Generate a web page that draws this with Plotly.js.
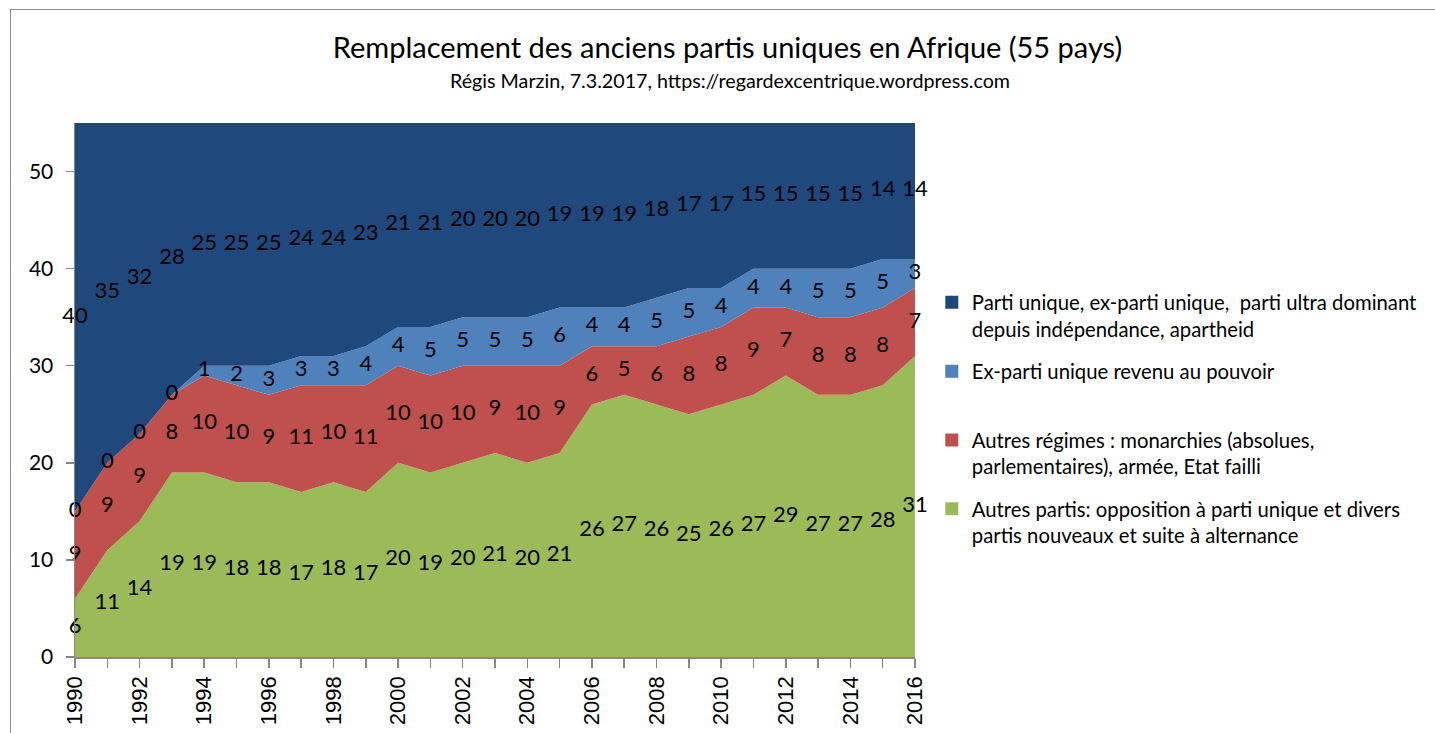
<!DOCTYPE html>
<html>
<head>
<meta charset="utf-8">
<script src="https://cdn.plot.ly/plotly-3.0.1.min.js"></script>
<style>
html,body{margin:0;padding:0;background:#fff;}
#chart{width:1435px;height:733px;position:relative;}
#frame{position:absolute;left:10px;top:9px;width:1440px;height:740px;border-left:1.5px solid #8c8c8c;border-top:1.5px solid #8c8c8c;pointer-events:none;}
</style>
</head>
<body>
<div id="chart"></div>
<div id="frame"></div>
<script>
const years = [1990,1991,1992,1993,1994,1995,1996,1997,1998,1999,2000,2001,2002,2003,2004,2005,2006,2007,2008,2009,2010,2011,2012,2013,2014,2015,2016];
const autresPartis = [6,11,14,19,19,18,18,17,18,17,20,19,20,21,20,21,26,27,26,25,26,27,29,27,27,28,31];
const autresRegimes = [9,9,9,8,10,10,9,11,10,11,10,10,10,9,10,9,6,5,6,8,8,9,7,8,8,8,7];
const exPartiRevenu = [0,0,0,0,1,2,3,3,3,4,4,5,5,5,5,6,4,4,5,5,4,4,4,5,5,5,3];
const partiUnique = [40,35,32,28,25,25,25,24,24,23,21,21,20,20,20,19,19,19,18,17,17,15,15,15,15,14,14];

const seriesNames = [
  "Autres partis: opposition à parti unique et divers<br>partis nouveaux et suite à alternance",
  "Autres régimes : monarchies (absolues,<br>parlementaires), armée, Etat failli",
  "Ex-parti unique revenu au pouvoir<br> ",
  "Parti unique, ex-parti unique,  parti ultra dominant<br>depuis indépendance, apartheid"
];
const seriesVals = [autresPartis, autresRegimes, exPartiRevenu, partiUnique];
const colors = ["#9BBB59", "#C0504D", "#4F81BD", "#1F497D"];

const traces = [];
// stacked areas
seriesVals.forEach((vals, i) => {
  traces.push({
    type: "scatter", x: years, y: vals, stackgroup: "one",
    mode: "none", fillcolor: colors[i], line: {width: 0},
    showlegend: false, hoverinfo: "skip"
  });
});
// data labels at the middle of each band
const base = years.map(() => 0);
seriesVals.forEach((vals, i) => {
  const mid = vals.map((v, j) => base[j] + v / 2);
  vals.forEach((v, j) => { base[j] += v; });
  traces.push({
    type: "scatter", x: years, y: mid, mode: "text",
    text: vals.map(String), textposition: "middle center",
    textfont: {family: "Lato, 'Open Sans', sans-serif", size: 22, color: "#000"},
    showlegend: false, hoverinfo: "skip", cliponaxis: false
  });
});
// legend entries (top to bottom)
[3, 2, 1, 0].forEach(i => {
  traces.push({
    type: "scatter", x: [null], y: [null], mode: "markers",
    marker: {symbol: "square", size: 13, color: colors[i]},
    name: seriesNames[i], showlegend: true, legendgroup: "g" + i
  });
});

const tickVals = years;
const tickText = years.map(y => (y % 2 === 0 ? String(y) : ""));

const layout = {
  width: 1435, height: 733,
  margin: {l: 75, r: 516, t: 123, b: 76},
  paper_bgcolor: "rgba(0,0,0,0)", plot_bgcolor: "#fff",
  font: {family: "Lato, 'Open Sans', sans-serif", color: "#000"},
  title: {
    text: "Remplacement des anciens partis uniques en Afrique (55 pays)",
    font: {family: "Lato, sans-serif", size: 29, color: "#000"},
    x: 0.507, xanchor: "center", y: 0.935, yanchor: "middle"
  },
  annotations: [{
    text: "Régis Marzin, 7.3.2017, https://regardexcentrique.wordpress.com",
    xref: "paper", yref: "paper", x: 0.78, y: 1.08, xanchor: "center", yanchor: "middle",
    showarrow: false, font: {family: "Lato, sans-serif", size: 19.7, color: "#000"}
  }],
  xaxis: {
    range: [1990, 2016], tickmode: "array", tickvals: tickVals, ticktext: tickText,
    tickangle: -90, ticks: "outside", ticklen: 9, tickcolor: "#868686", tickwidth: 1.5,
    showline: true, linecolor: "#868686", linewidth: 1.5, showgrid: false, zeroline: false,
    tickfont: {family: "'Liberation Sans', Arial, sans-serif", size: 22, color: "#000"}
  },
  yaxis: {
    range: [0, 55], tickvals: [0,10,20,30,40,50], ticks: "outside", ticklen: 8,
    tickcolor: "#868686", tickwidth: 1.5, showline: true, linecolor: "#868686", linewidth: 1.5,
    showgrid: false, zeroline: false, ticklabelstandoff: 8,
    tickfont: {family: "Lato, sans-serif", size: 21, color: "#000"}
  },
  legend: {
    x: 1.02, xanchor: "left", y: 0.701, yanchor: "top",
    font: {family: "Lato, sans-serif", size: 20.3, color: "#000"},
    traceorder: "grouped", valign: "top", tracegroupgap: 13, itemwidth: 30,
    bgcolor: "rgba(0,0,0,0)"
  },
  showlegend: true
};

Plotly.newPlot("chart", traces, layout, {displayModeBar: false, staticPlot: true});
</script>
</body>
</html>
